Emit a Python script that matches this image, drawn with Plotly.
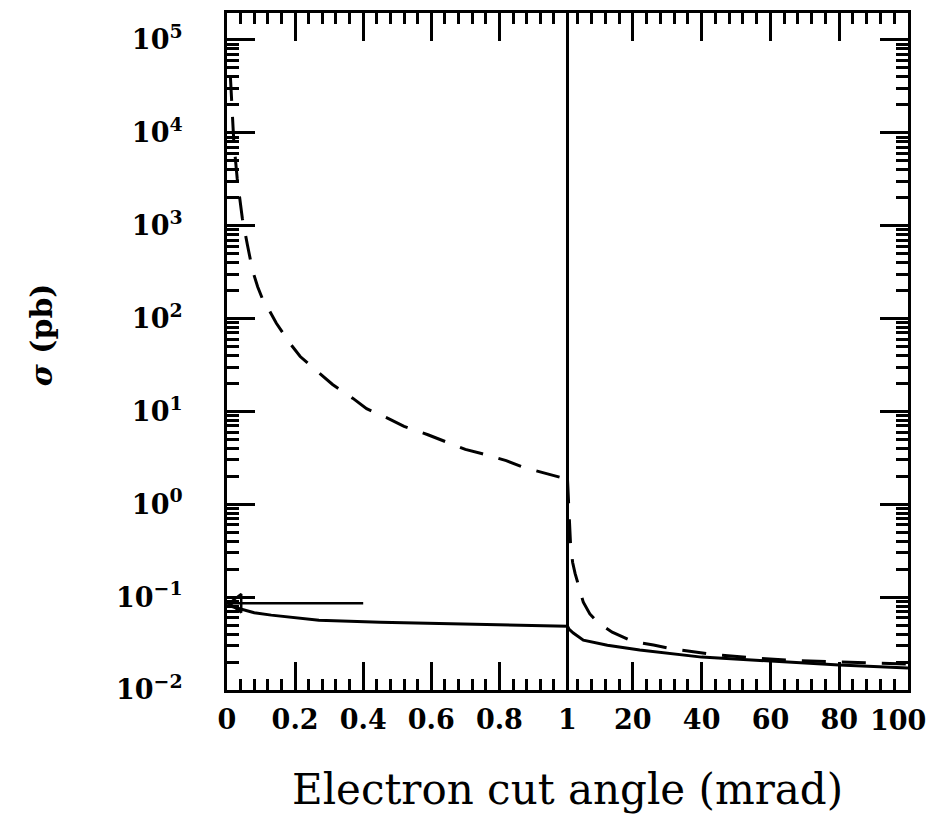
import plotly.graph_objects as go

# left panel, 0-1 mrad
theta_lo_dash = [0.010, 0.015, 0.020, 0.030, 0.045, 0.060, 0.075, 0.090, 0.105, 0.12,
                 0.145, 0.185, 0.215, 0.27, 0.31, 0.37, 0.41, 0.47, 0.52, 0.59,
                 0.635, 0.70, 0.75, 0.82, 0.87, 0.935, 1.0]
sigma_lo_dash = [4.0e4, 1.6e4, 8.0e3, 3.2e3, 1.2e3, 6.2e2, 3.3e2, 2.2e2, 1.6e2, 1.3e2,
                 89, 54, 39, 26, 19.5, 13.8, 10.7, 8.5, 6.9, 5.6,
                 4.8, 3.9, 3.5, 2.95, 2.5, 2.14, 1.86]
theta_lo_solid = [0.0, 0.04, 0.08, 0.13, 0.18, 0.27, 0.45, 0.6, 0.8, 1.0]
sigma_lo_solid = [0.082, 0.075, 0.068, 0.064, 0.061, 0.0565, 0.0535, 0.0522, 0.0505, 0.0487]

# right panel, 1-100 mrad
theta_hi_dash = [1.0, 1.2, 1.4, 1.9, 2.5, 3.2, 4.2, 5.6, 7.5, 9.7,
                 14, 20, 26, 32, 44, 56, 68, 80, 92, 100]
sigma_hi_dash = [1.86, 1.2, 0.85, 0.36, 0.236, 0.18, 0.134, 0.088, 0.066, 0.0537,
                 0.0419, 0.0333, 0.0305, 0.0275, 0.0240, 0.0220, 0.0207, 0.0200, 0.0195, 0.019]
theta_hi_solid = [1.0, 1.5, 2.7, 5.6, 12.6, 22, 40, 60, 80, 100]
sigma_hi_solid = [0.0487, 0.045, 0.041, 0.0344, 0.0304, 0.0269, 0.0226, 0.0205, 0.0186, 0.0173]

# no-cut reference value marked by the arrow
arrow_value = 0.086
arrow_from = 0.4

lo_ticks = [0, 0.2, 0.4, 0.6, 0.8]
lo_labels = ["0", "0.2", "0.4", "0.6", "0.8"]
hi_ticks = [1, 20, 40, 60, 80, 100]
hi_labels = ["1", "20", "40", "60", "80", ""]   # last one placed by hand so it isn't clipped
y_exps = [-2, -1, 0, 1, 2, 3, 4, 5]

FONT = "DejaVu Serif"
BLACK = "black"
TICKFONT = dict(family=FONT, size=27, color=BLACK, weight="bold")

fig = go.Figure()

fig.add_trace(go.Scatter(x=theta_lo_dash, y=sigma_lo_dash, mode="lines",
                         line=dict(color=BLACK, width=3, dash="24px,16px"),
                         xaxis="x", yaxis="y"))
fig.add_trace(go.Scatter(x=theta_lo_solid, y=sigma_lo_solid, mode="lines",
                         line=dict(color=BLACK, width=3), xaxis="x", yaxis="y"))
fig.add_trace(go.Scatter(x=[arrow_from, 0], y=[arrow_value, arrow_value], mode="lines",
                         line=dict(color=BLACK, width=2.5), xaxis="x", yaxis="y"))
fig.add_trace(go.Scatter(x=[0.03], y=[arrow_value], mode="markers",
                         marker=dict(symbol="triangle-left-open", size=16, color=BLACK,
                                     line=dict(width=2.5, color=BLACK)),
                         xaxis="x", yaxis="y"))

fig.add_trace(go.Scatter(x=theta_hi_dash, y=sigma_hi_dash, mode="lines",
                         line=dict(color=BLACK, width=3, dash="24px,16px"),
                         xaxis="x2", yaxis="y2"))
fig.add_trace(go.Scatter(x=theta_hi_solid, y=sigma_hi_solid, mode="lines",
                         line=dict(color=BLACK, width=3), xaxis="x2", yaxis="y2"))

xcommon = dict(showline=True, linewidth=3, linecolor=BLACK, mirror="allticks",
               ticks="inside", ticklen=28, tickwidth=2.5, tickcolor=BLACK,
               showgrid=False, zeroline=False, ticklabelstandoff=4,
               ticklabeloverflow="allow", tickfont=TICKFONT)
ycommon = dict(type="log", range=[-2, 5.29], tickvals=[10.0 ** e for e in y_exps],
               showline=True, linewidth=3,
               linecolor=BLACK, ticks="inside", ticklen=28, tickwidth=2.5,
               tickcolor=BLACK, showgrid=False, zeroline=False,
               minor=dict(ticks="inside", ticklen=12, tickwidth=2.5, dtick="D1",
                          tickcolor=BLACK, showgrid=False))

# the page body has an 8px margin, so the figure is shifted/sized to match the window
fig.update_layout(
    width=928, height=807,
    margin=dict(l=219, r=28, t=2, b=125),
    paper_bgcolor="white", plot_bgcolor="white",
    showlegend=False,
    xaxis=dict(domain=[0, 0.5], range=[0, 1], tickvals=lo_ticks, ticktext=lo_labels,
               minor=dict(ticks="inside", ticklen=11, tickwidth=2.5, dtick=0.04,
                          tickcolor=BLACK, showgrid=False),
               anchor="y", **xcommon),
    xaxis2=dict(domain=[0.5, 1], range=[1, 100], tickvals=hi_ticks, ticktext=hi_labels,
                minor=dict(ticks="inside", ticklen=11, tickwidth=2.5, tick0=0, dtick=4,
                           tickcolor=BLACK, showgrid=False),
                anchor="y2", **xcommon),
    yaxis=dict(anchor="x", side="left", ticklabelstandoff=36,
               ticktext=["10<sup>%s</sup>" % str(e).replace("-", "\u2212") for e in y_exps],
               tickfont=TICKFONT, **ycommon),
    yaxis2=dict(anchor="x2", side="right", matches="y", showticklabels=False, **ycommon),
    shapes=[dict(type="line", xref="paper", yref="paper", x0=0.5, x1=0.5, y0=0, y1=1,
                 line=dict(color=BLACK, width=3))],
    annotations=[
        dict(text=str(hi_ticks[-1]), xref="x2", yref="paper", x=hi_ticks[-1], y=0,
             xanchor="right", yanchor="top", xshift=20, yshift=-13,
             showarrow=False, font=TICKFONT),
        dict(text="Electron cut angle (mrad)", xref="paper", yref="paper",
             x=0.5, y=-0.147, xanchor="center", yanchor="middle", showarrow=False,
             font=dict(family=FONT, size=42, color=BLACK)),
        dict(text="<i>σ</i> (pb)", xref="paper", yref="paper", textangle=-90,
             x=-0.272, y=0.525, xanchor="center", yanchor="middle", showarrow=False,
             font=dict(family=FONT, size=30, color=BLACK, weight="bold")),
    ],
)

fig.write_html("out.html")
